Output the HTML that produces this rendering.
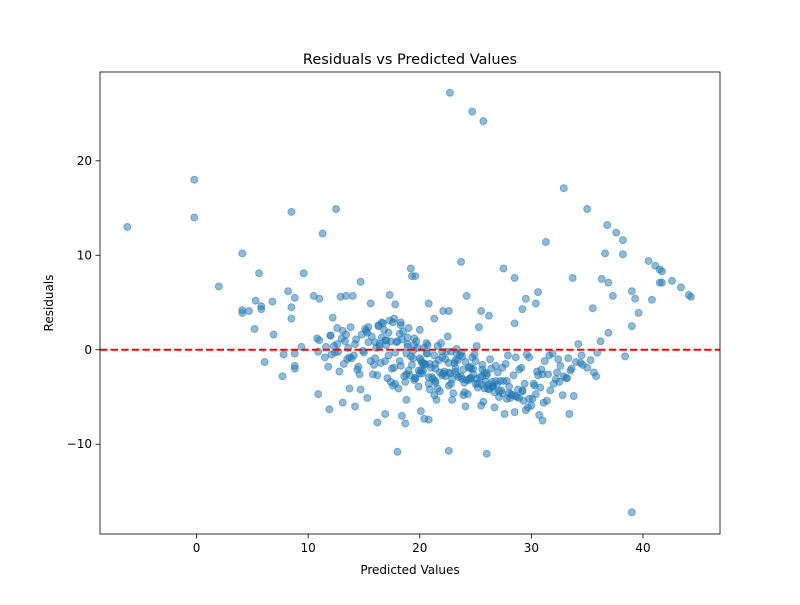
<!DOCTYPE html>
<html><head><meta charset="utf-8"><style>
body{margin:0;background:#fff;}
svg text{font-family:"DejaVu Sans","Liberation Sans",sans-serif;}
</style></head><body>
<svg id="chart" width="800" height="600" xmlns="http://www.w3.org/2000/svg">
<rect width="800" height="600" fill="#fff"/>
<text x="410" y="64" font-size="14.5" text-anchor="middle">Residuals vs Predicted Values</text>
<text x="410" y="574" font-size="12" text-anchor="middle">Predicted Values</text>
<text x="53" y="303" font-size="12" text-anchor="middle" transform="rotate(-90 53 303)">Residuals</text>
<g id="points"></g>
<g id="axes"></g>
</svg>
<script>
const predicted = [-6.2,-0.2,-0.2,2.0,4.1,4.1,4.1,4.7,5.2,5.3,5.6,5.8,5.8,6.1,6.8,6.9,7.7,7.8,8.2,8.5,8.5,8.5,8.8,8.8,8.8,8.8,9.4,9.6,10.5,11.0,10.9,10.9,11.3,12.5,11.9,12.2,12.9,13.4,14.0,13.1,13.7,14.2,14.7,14.7,15.3,15.6,16.2,16.9,17.3,17.8,18.0,18.4,18.7,19.2,19.3,19.6,20.1,20.4,20.8,20.8,21.3,22.1,22.6,22.7,22.6,23.7,24.2,24.7,25.7,26.0,25.5,26.2,26.7,27.5,28.5,28.5,29.2,29.5,30.6,30.4,31.3,31.0,32.9,33.7,33.4,35.0,35.5,36.3,36.6,36.8,36.9,36.9,37.3,37.6,38.2,38.2,38.4,39.0,39.0,39.3,39.6,39.0,40.5,40.8,41.1,41.5,41.7,41.5,41.7,42.6,43.4,44.1,44.3,
11.0,11.5,12.0,12.3,12.8,13.0,13.5,13.8,14.2,14.5,15.0,15.3,15.8,16.1,16.5,16.8,17.2,17.5,17.9,18.2,18.6,18.9,19.3,19.6,20.0,20.3,20.7,21.0,21.4,21.7,22.1,22.4,22.8,23.1,23.5,23.8,24.2,24.5,24.9,25.2,25.6,25.9,26.3,26.6,27.0,27.3,27.7,28.0,28.4,28.7,29.1,29.4,29.8,30.1,30.5,30.8,31.2,31.5,31.9,32.2,32.6,32.9,33.3,33.6,34.0,34.5,35.0,35.6,
11.8,12.6,13.3,14.1,14.8,15.6,16.3,17.0,17.7,18.4,19.1,19.8,20.5,21.2,21.9,22.6,23.3,24.0,24.7,25.4,26.1,26.8,27.5,28.2,28.9,29.6,30.3,31.0,31.7,32.4,33.1,33.8,34.6,35.8,36.2,
12.4,13.2,14.4,15.2,16.0,16.6,17.4,18.0,18.8,19.4,20.2,20.8,21.6,22.2,23.0,23.6,24.4,25.0,25.8,26.4,27.2,27.8,28.6,29.2,30.0,30.6,31.4,32.0,32.8,33.5,
13.6,15.4,16.7,17.6,18.3,19.0,19.7,20.4,21.1,21.8,22.5,23.2,23.9,24.6,25.3,26.0,26.7,27.4,28.1,28.8,29.5,30.2,31.1,32.3,34.2,
14.6,16.4,17.3,18.1,18.8,19.5,20.1,20.9,21.5,22.3,22.9,23.7,24.3,25.1,25.7,26.5,27.1,27.9,28.5,29.3,30.7,32.5,
15.9,17.1,18.5,19.9,20.6,21.3,22.0,22.7,23.4,24.1,24.8,25.5,26.9,28.3,29.7,
12.1,13.9,16.2,17.8,19.2,20.3,21.6,22.9,24.0,25.6,27.6,30.9,33.2,35.3,
10.8,11.6,12.7,13.4,17.0,18.7,20.0,21.4,23.3,24.8,26.2,28.9,31.6,34.4,35.9,
16.4,16.9,17.4,17.8,18.3,18.9,19.4,19.9,20.4,20.9,21.3,21.8,22.3,22.8,23.2,23.7,24.1,24.6,25.1,25.6,26.0,26.5,
15.1,15.7,16.3,16.9,17.6,18.2,18.8,19.5,20.1,20.7,21.4,22.0,22.6,23.3,23.9,24.5,25.2,25.8,26.5,27.1,27.8,
12.0,12.6,13.1,13.7,14.3,14.9,15.4,16.0,16.6,17.2,17.7,18.3,18.9,19.5,20.0,20.6,
19.0,19.6,20.2,20.8,21.4,22.0,22.6,23.2,23.8,24.4,25.0,25.6,26.2,26.8,27.4,28.0,28.6,29.2,29.8,30.4];
const residuals = [13.0,18.0,14.0,6.7,10.2,4.2,3.9,4.1,2.2,5.2,8.1,4.6,4.3,-1.3,5.1,1.6,-2.8,-0.5,6.2,14.6,4.5,3.3,5.5,-0.4,-1.7,-2.0,0.3,8.1,5.7,5.4,-0.2,-4.7,12.3,14.9,-6.3,3.4,5.6,5.7,5.7,-5.6,-4.1,-6.0,7.2,-4.2,-5.1,4.9,-7.7,-6.8,5.8,4.8,-10.8,-7.0,-7.8,8.6,7.8,7.8,-6.5,-7.3,-7.4,4.9,3.3,4.1,4.1,27.2,-10.7,9.3,5.7,25.2,24.2,-11.0,4.1,3.6,-6.1,8.6,7.6,2.8,4.3,5.4,6.1,4.9,11.4,-7.5,17.1,7.6,-6.8,14.9,4.4,7.5,10.2,13.2,7.1,1.8,5.7,12.4,11.6,10.1,-0.7,6.2,2.5,5.4,3.9,-17.2,9.4,5.3,8.9,8.5,8.3,7.1,7.1,7.3,6.6,5.8,5.6,
1.0,-0.8,1.5,0.4,-2.3,1.2,-1.0,2.4,0.6,-1.8,-0.3,1.8,-2.6,0.2,-1.4,2.1,-0.6,-2.0,0.8,-1.2,-2.8,0.3,-1.6,-3.0,-0.9,-2.2,-0.4,-1.9,-3.3,-1.1,-2.5,-0.2,-3.6,-1.4,-2.9,-0.7,-3.2,-1.8,-0.5,-4.0,-2.1,-3.4,-1.0,-3.8,-2.4,-4.3,-1.5,-4.6,-2.7,-5.0,-1.9,-3.6,-0.8,-5.2,-2.3,-4.0,-1.2,-2.6,-0.4,-3.1,-1.7,-2.8,-0.9,-2.0,-1.3,-0.6,-1.9,-2.4,
-1.8,2.3,0.9,-0.6,1.6,-1.2,2.6,0.5,-1.9,1.1,-2.7,0.2,-1.5,-3.1,0.7,-2.4,0.1,-3.5,-0.8,-2.9,-4.1,-1.7,-3.3,-4.7,-2.1,-0.5,-3.8,-2.6,-4.3,-1.0,-3.0,-4.9,-1.6,-2.8,0.9,
-0.3,-1.5,-2.1,2.0,-0.9,1.3,-3.4,0.9,-2.6,-0.1,-1.4,-3.6,0.4,-2.3,-4.6,-0.6,-3.2,-1.2,-4.1,-2.0,-3.3,-5.2,-0.8,-4.4,-5.9,-2.7,-5.4,-3.6,-4.8,-2.2,
0.2,0.8,2.8,-3.8,2.9,2.3,0.9,-1.6,-2.9,-4.4,1.4,-1.1,-4.8,-3.0,2.4,-2.7,-4.5,-1.9,-5.1,-4.2,-6.4,-3.6,-5.6,-2.4,0.6,
-2.6,0.6,3.1,-4.1,-5.3,-3.2,-2.2,-4.2,-5.3,-2.8,-3.1,-0.3,-4.7,0.4,-5.5,-3.9,-5.0,-0.6,-6.6,-5.4,-6.9,-3.4,
-1.6,-3.0,1.9,-3.9,0.7,-4.8,-0.2,-2.5,-1.1,-6.0,-2.0,-5.9,-3.7,-4.8,-6.1,
-0.5,-0.9,-2.7,-3.6,-0.7,-1.4,-4.1,-5.3,-4.5,-3.7,-6.8,-2.1,-3.0,-1.1,
1.2,0.3,-0.2,1.6,1.0,-3.4,-2.5,-1.5,-0.4,-2.6,-3.7,-5.1,-0.6,-1.4,-0.3,
0.4,-1.2,0.9,-0.3,-1.7,0.6,-0.9,-2.2,0.2,-1.5,-0.6,-2.4,-1.0,-0.2,-1.9,-2.8,-1.3,-2.0,-3.1,-1.6,-2.5,-3.4,
2.2,1.4,2.5,1.0,2.9,1.7,-0.4,1.2,-1.1,0.5,-2.0,-0.8,-1.4,-2.6,-2.1,-3.0,-3.6,-2.4,-3.9,-4.4,-3.3,
1.5,0.6,2.0,-0.8,1.1,-0.1,2.4,0.8,2.9,1.8,3.3,2.6,1.3,0.5,2.1,-0.4,
-2.2,-3.0,-2.5,-2.9,-3.5,-2.7,-3.8,-2.3,-3.1,-1.9,-3.6,-2.8,-4.2,-3.3,-4.6,-3.9,-4.9,-4.3,-5.2,-4.7];
const xTicks = [0,10,20,30,40];
const yTicks = [-10,0,10,20];
const L=100,R=720,T=72,B=534, xMin=-8.65,xMax=46.9,yMin=-19.5,yMax=29.4;
const xs=v=>L+(v-xMin)/(xMax-xMin)*(R-L);
const ys=v=>B-(v-yMin)/(yMax-yMin)*(B-T);
const NS="http://www.w3.org/2000/svg";
const pg=document.getElementById('points');
const n=Math.min(predicted.length,residuals.length);
for(let i=0;i<n;i++){
  const c=document.createElementNS(NS,'circle');
  c.setAttribute('cx',xs(predicted[i]));c.setAttribute('cy',ys(residuals[i]));
  c.setAttribute('r',3.5);c.setAttribute('fill','#1f77b4');c.setAttribute('fill-opacity','0.5');
  c.setAttribute('stroke','#1f77b4');c.setAttribute('stroke-opacity','0.5');c.setAttribute('stroke-width','1');
  
  
  pg.appendChild(c);
}
const ax=document.getElementById('axes');
const zl=document.createElementNS(NS,'line');
zl.setAttribute('x1',L);zl.setAttribute('x2',R);zl.setAttribute('y1',ys(0));zl.setAttribute('y2',ys(0));
zl.setAttribute('stroke','red');zl.setAttribute('stroke-width','2');zl.setAttribute('stroke-dasharray','7.4,3.2');


ax.appendChild(zl);
const fr=document.createElementNS(NS,'rect');
fr.setAttribute('x',L);fr.setAttribute('y',T);fr.setAttribute('width',R-L);fr.setAttribute('height',B-T);
fr.setAttribute('fill','none');fr.setAttribute('stroke','#000');fr.setAttribute('stroke-width','0.8');


ax.appendChild(fr);
xTicks.forEach(t=>{
  const x=xs(t);
  const l=document.createElementNS(NS,'line');
  l.setAttribute('x1',x);l.setAttribute('x2',x);l.setAttribute('y1',B);l.setAttribute('y2',B+4.5);l.setAttribute('stroke','#000');l.setAttribute('stroke-width','0.8');
  
  
  ax.appendChild(l);
  const tx=document.createElementNS(NS,'text');
  tx.setAttribute('x',x);tx.setAttribute('y',B+18);tx.setAttribute('font-size','12');tx.setAttribute('text-anchor','middle');
  tx.textContent=String(t);
  
  
  ax.appendChild(tx);
});
yTicks.forEach(t=>{
  const y=ys(t);
  const l=document.createElementNS(NS,'line');
  l.setAttribute('x1',L-4.5);l.setAttribute('x2',L);l.setAttribute('y1',y);l.setAttribute('y2',y);l.setAttribute('stroke','#000');l.setAttribute('stroke-width','0.8');
  
  
  ax.appendChild(l);
  const tx=document.createElementNS(NS,'text');
  tx.setAttribute('x',L-8);tx.setAttribute('y',y+4);tx.setAttribute('font-size','12');tx.setAttribute('text-anchor','end');
  tx.textContent=t<0?'\u2212'+Math.abs(t):String(t);
  
  
  ax.appendChild(tx);
});
</script>
</body></html>
